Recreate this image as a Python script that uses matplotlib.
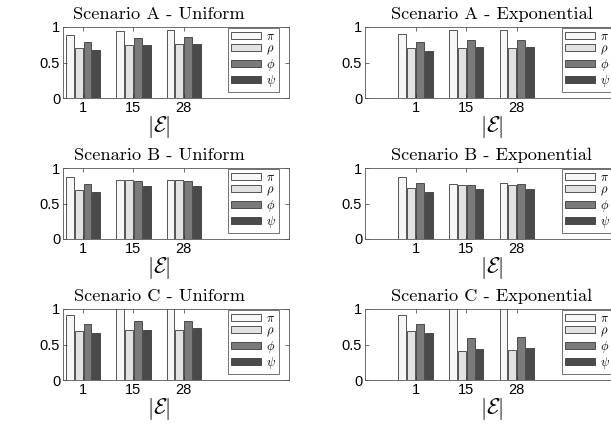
import numpy as np
import matplotlib
matplotlib.use('Agg')
import matplotlib.pyplot as plt
from matplotlib.patches import Patch

plt.rcParams['mathtext.fontset'] = 'cm'
plt.rcParams['font.family'] = 'Liberation Sans'
plt.rcParams['axes.formatter.use_mathtext'] = True

# group labels on the x axis
edges = ['1', '15', '28']
metrics = [r'$\pi$', r'$\rho$', r'$\phi$', r'$\psi$']
colors = ['#f7f7f7', '#e2e2e2', '#7a7a7a', '#4a4a4a']

titles = ['Scenario A - Uniform', 'Scenario A - Exponential',
          'Scenario B - Uniform', 'Scenario B - Exponential',
          'Scenario C - Uniform', 'Scenario C - Exponential']

# values per metric (pi, rho, phi, psi), one entry per |E| group
a_uni = [[0.89, 0.95, 0.955],
         [0.71, 0.75, 0.76],
         [0.785, 0.84, 0.86],
         [0.675, 0.75, 0.76]]
a_exp = [[0.90, 0.96, 0.96],
         [0.71, 0.70, 0.70],
         [0.79, 0.81, 0.81],
         [0.665, 0.715, 0.715]]
b_uni = [[0.88, 0.825, 0.835],
         [0.685, 0.825, 0.835],
         [0.775, 0.81, 0.82],
         [0.655, 0.745, 0.745]]
b_exp = [[0.875, 0.775, 0.785],
         [0.715, 0.765, 0.765],
         [0.79, 0.765, 0.775],
         [0.66, 0.705, 0.705]]
c_uni = [[0.915, 1.10, 1.10],
         [0.69, 0.71, 0.71],
         [0.785, 0.835, 0.835],
         [0.665, 0.71, 0.73]]
c_exp = [[0.91, 1.10, 1.10],
         [0.69, 0.405, 0.425],
         [0.785, 0.59, 0.60],
         [0.665, 0.435, 0.45]]
panels = [a_uni, a_exp, b_uni, b_exp, c_uni, c_exp]

W, H = 611, 426
fig = plt.figure(figsize=(W / 100, H / 100), dpi=100)

tops = [27, 168, 309]
h = 71
x = np.arange(1, len(edges) + 1)
bw = 0.155
step = 0.175

for i, vals in enumerate(panels):
    row, col = i // 2, i % 2
    bottom = 1 - (tops[row] + h) / H
    if col == 0:
        ax = fig.add_axes([63 / W, bottom, 226 / W, h / H])
        ax.set_xlim(0.6, 5.09)
        tx = 0.425
        lx = 228
    else:
        ax = fig.add_axes([365 / W, bottom, 258 / W, h / H])
        ax.set_xlim(0, 5.1)
        tx = 0.49
        lx = 562
    for k in range(4):
        ax.bar(x + (k - 1.5) * step, vals[k], width=bw, color=colors[k],
               edgecolor='#3a3a3a', linewidth=0.6)
    ax.set_ylim(0, 1)
    ax.set_yticks([0, 0.5, 1])
    ax.set_yticklabels(['0', '0.5', '1'])
    ax.set_xticks(x)
    ax.set_xticklabels(edges)
    ax.tick_params(direction='in', length=3, width=0.5, top=True, right=True,
                   labelsize=10.5, pad=2, color='#333333')
    for s in ax.spines.values():
        s.set_linewidth(0.6)
        s.set_color('#555555')
    ax.text(tx, 1.07, titles[i], transform=ax.transAxes, ha='center',
            va='bottom', fontsize=13.2, family='cmr10')
    ax.text(tx, -0.41, r'$|\mathcal{E}|$', transform=ax.transAxes, ha='center',
            va='center', fontsize=16)
    handles = [Patch(facecolor=colors[k], edgecolor='#3a3a3a', linewidth=0.6)
               for k in range(4)]
    leg = ax.legend(handles, metrics, loc='upper left', fontsize=9,
                    bbox_to_anchor=(lx / W, 1 - (tops[row] + 1) / H),
                    bbox_transform=fig.transFigure, borderaxespad=0,
                    frameon=True, fancybox=False,
                    handlelength=2.4, handleheight=0.5, labelspacing=0.0,
                    handletextpad=0.4, borderpad=0.25)
    leg.get_frame().set_edgecolor('#333333')
    leg.get_frame().set_linewidth(0.6)

fig.savefig('out.png', dpi=100)
